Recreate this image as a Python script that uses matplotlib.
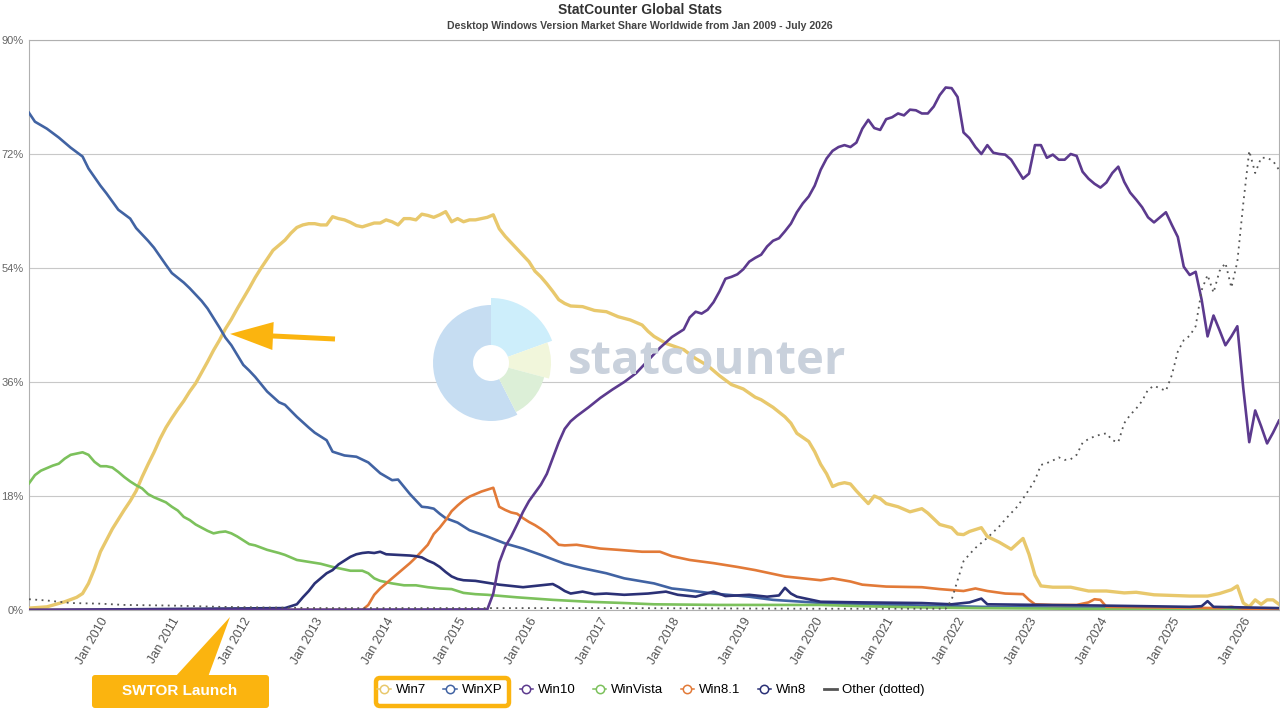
import matplotlib
matplotlib.use("Agg")
import matplotlib.pyplot as plt
import matplotlib.transforms as mtransforms
from matplotlib.lines import Line2D
from matplotlib.patches import FancyBboxPatch, Polygon, FancyArrow, Wedge

plt.rcParams['font.family'] = ['Liberation Sans', 'DejaVu Sans']

# x = months since Jan 2009 (Jul 2026 = 210)
win7_m = [0, 3, 6, 8, 9, 10, 11, 12, 13, 14, 15, 16, 17, 18, 19, 20, 21, 22, 23, 24, 25, 26, 27, 28, 29, 30,
          31, 32, 33, 34, 35, 36, 37, 38, 39, 40, 41, 42, 43, 44, 45, 46, 47, 48, 49, 50, 51, 52, 53, 54, 55,
          56, 57, 58, 59, 60, 61, 62, 63, 64, 65, 66, 67, 68, 69, 70, 71, 72, 73, 74, 75, 76, 77, 78, 79, 80,
          81, 82, 83, 84, 85, 86, 87, 88, 89, 90, 91, 93, 95, 97, 99, 101, 103, 104, 105, 107, 110, 112, 114,
          116, 118, 120, 122, 123, 125, 127, 128, 129, 131, 132, 133, 134, 135, 136, 137, 138, 139, 141, 142,
          143, 144, 146, 148, 150, 151, 153, 155, 156, 157, 158, 160, 161, 163, 165, 167, 168, 169, 170, 172,
          175, 178, 181, 184, 186, 189, 192, 195, 198, 200, 202, 203, 204, 205, 206, 207, 208, 209, 210]
win7_v = [0.3, 0.5, 1.3, 2.0, 2.6, 4.2, 6.5, 9.2, 11.0, 12.8, 14.3, 15.8, 17.2, 18.8, 21.0, 23.0, 24.9, 27.0,
          28.8, 30.3, 31.7, 33.0, 34.5, 35.8, 37.5, 39.2, 41.0, 42.6, 44.4, 45.9, 47.6, 49.2, 50.8, 52.5, 54.0,
          55.4, 56.8, 57.6, 58.4, 59.5, 60.4, 60.8, 61.0, 61.0, 60.8, 60.8, 62.1, 61.8, 61.6, 61.2, 60.7, 60.5,
          60.8, 61.1, 61.1, 61.6, 61.3, 60.8, 61.8, 61.8, 61.6, 62.5, 62.3, 62.0, 62.4, 62.9, 61.3, 61.8, 61.3,
          61.6, 61.6, 61.8, 62.0, 62.4, 60.2, 59.0, 58.0, 57.0, 56.0, 55.0, 53.5, 52.6, 51.5, 50.3, 49.0, 48.4,
          48.0, 47.9, 47.3, 47.1, 46.3, 45.8, 45.0, 44.0, 43.2, 42.1, 41.1, 39.7, 38.6, 37.0, 35.6, 34.9, 33.6,
          33.2, 32.0, 30.5, 29.5, 27.9, 26.6, 25.0, 23.0, 21.5, 19.5, 19.9, 20.1, 19.9, 18.8, 16.8, 18.0, 17.6,
          16.8, 16.3, 15.5, 16.0, 15.3, 13.5, 13.0, 12.0, 11.9, 12.4, 13.0, 11.6, 10.7, 9.6, 11.3, 8.8, 5.5,
          3.8, 3.6, 3.6, 3.0, 3.0, 2.7, 2.8, 2.4, 2.3, 2.2, 2.2, 2.6, 3.2, 3.8, 1.1, 0.5, 1.6, 0.9, 1.6, 1.6, 0.9]

winxp_m = [0, 1, 3, 5, 7, 9, 10, 12, 13, 15, 17, 18, 20, 21, 23, 24, 26, 27, 29, 30, 32, 33, 34, 36, 37, 38,
           40, 42, 43, 45, 47, 48, 50, 51, 53, 55, 57, 59, 61, 62, 64, 66, 67, 68, 69, 70, 72, 74, 77, 80, 83,
           86, 90, 93, 97, 100, 105, 108, 110, 115, 121, 125, 130, 135, 140, 150, 160, 170, 185, 210]
winxp_v = [78.5, 77.1, 76.0, 74.6, 73.0, 71.6, 69.7, 67.0, 65.8, 63.2, 61.8, 60.3, 58.3, 57.2, 54.5, 53.2,
           51.7, 50.8, 48.8, 47.6, 44.6, 43.0, 41.8, 38.7, 37.8, 36.8, 34.5, 32.8, 32.4, 30.5, 28.8, 28.0,
           26.8, 25.0, 24.4, 24.2, 23.3, 21.6, 20.5, 20.6, 18.3, 16.3, 16.2, 16.0, 15.2, 14.5, 13.8, 12.6,
           11.6, 10.5, 9.7, 8.7, 7.3, 6.6, 5.8, 5.0, 4.2, 3.4, 3.2, 2.6, 2.1, 1.6, 1.3, 1.0, 0.9, 0.7, 0.5,
           0.4, 0.3, 0.2]

win10_m = [0, 77, 78, 79, 80, 81, 82, 83, 84, 85, 86, 87, 88, 89, 90, 91, 92, 94, 96, 98, 100, 102, 104, 106,
           108, 110, 111, 112, 113, 114, 115, 116, 117, 118, 119, 120, 121, 122, 123, 124, 125, 126, 127, 128,
           129, 130, 131, 132, 133, 134, 135, 136, 137, 138, 139, 140, 141, 142, 143, 144, 145, 146, 147, 148,
           149, 150, 151, 152, 153, 154, 155, 156, 157, 158, 159, 160, 161, 162, 163, 164, 165, 166, 167, 168,
           169, 170, 171, 172, 173, 174, 175, 176, 177, 178, 179, 180, 181, 182, 183, 184, 185, 186, 187, 188,
           189, 190, 191, 192, 193, 194, 195, 196, 197, 198, 199, 200, 201, 202, 203, 204, 205, 206, 207, 208,
           209, 210]
win10_v = [0.0, 0.1, 2.6, 7.5, 10.0, 11.6, 13.5, 15.5, 17.2, 18.5, 19.8, 21.5, 24.0, 26.5, 28.6, 29.8, 30.6,
           32.0, 33.5, 34.8, 36.0, 37.4, 39.4, 41.4, 43.1, 44.3, 46.2, 47.1, 46.8, 47.4, 48.6, 50.3, 52.3, 52.6,
           53.0, 53.8, 55.0, 55.6, 56.1, 57.4, 58.3, 58.7, 59.8, 61.0, 62.8, 64.2, 65.3, 67.0, 69.5, 71.3, 72.5,
           73.1, 73.4, 73.1, 73.8, 76.0, 77.4, 76.1, 75.8, 77.5, 77.8, 78.4, 78.1, 79.0, 78.9, 78.4, 78.4, 79.5,
           81.3, 82.5, 82.4, 81.0, 75.4, 74.5, 73.1, 72.0, 73.4, 72.2, 72.0, 71.9, 71.1, 69.6, 68.1, 68.9, 73.4,
           73.4, 71.4, 71.9, 71.1, 71.1, 72.0, 71.7, 69.2, 68.1, 67.3, 66.7, 67.5, 69.0, 70.0, 67.6, 65.9, 64.8,
           63.6, 62.0, 61.2, 62.0, 62.8, 60.8, 58.9, 54.2, 52.9, 53.4, 49.0, 43.2, 46.5, 44.2, 41.8, 43.2, 44.8,
           35.0, 26.5, 31.5, 29.0, 26.3, 28.0, 29.9]

vista_m = [0, 1, 2, 3, 4, 5, 6, 7, 8, 9, 10, 11, 12, 13, 14, 15, 16, 17, 18, 19, 20, 21, 22, 23, 24, 25, 26,
           27, 28, 29, 30, 31, 32, 33, 34, 35, 36, 37, 38, 40, 42, 43, 45, 47, 49, 51, 52, 54, 56, 57, 58, 59,
           61, 63, 65, 67, 69, 71, 73, 75, 77, 82, 88, 94, 100, 105, 116, 133, 140, 150, 160, 175, 210]
vista_v = [20.0, 21.3, 22.0, 22.4, 22.8, 23.1, 23.9, 24.5, 24.7, 24.9, 24.5, 23.4, 22.7, 22.7, 22.5, 21.8,
           21.0, 20.3, 19.7, 19.2, 18.3, 17.8, 17.4, 17.0, 16.3, 15.7, 14.7, 14.2, 13.5, 13.0, 12.5, 12.1, 12.3,
           12.4, 12.1, 11.6, 11.0, 10.4, 10.2, 9.5, 9.0, 8.7, 7.9, 7.6, 7.3, 6.8, 6.6, 6.2, 6.2, 5.8, 5.0, 4.6,
           4.2, 3.9, 3.9, 3.6, 3.4, 3.3, 2.7, 2.5, 2.4, 2.0, 1.6, 1.3, 1.1, 0.9, 0.8, 0.8, 0.6, 0.4, 0.3, 0.2, 0.1]

win81_m = [0, 56, 57, 58, 59, 60, 61, 62, 63, 64, 65, 66, 67, 68, 69, 70, 71, 72, 73, 74, 75, 76, 77, 78, 79,
           80, 81, 82, 83, 84, 85, 86, 87, 88, 89, 90, 92, 94, 96, 99, 103, 106, 108, 111, 115, 119, 122, 127,
           133, 135, 138, 140, 144, 150, 153, 157, 159, 161, 164, 167, 168, 169, 172, 176, 178, 179, 180, 181,
           190, 200, 202, 204, 210]
win81_v = [0.0, 0.0, 0.8, 2.4, 3.4, 4.2, 5.0, 5.8, 6.6, 7.4, 8.3, 9.3, 10.3, 12.0, 13.0, 14.2, 15.6, 16.5,
           17.3, 17.9, 18.3, 18.7, 19.0, 19.3, 16.3, 15.8, 15.4, 15.2, 14.5, 13.9, 13.4, 12.8, 12.1, 11.2, 10.3,
           10.2, 10.3, 10.0, 9.7, 9.5, 9.2, 9.2, 8.5, 7.9, 7.4, 6.8, 6.3, 5.3, 4.7, 5.0, 4.5, 4.0, 3.7, 3.6, 3.3,
           3.0, 3.4, 3.0, 2.6, 2.5, 1.6, 0.9, 0.8, 0.8, 1.2, 1.7, 1.6, 0.5, 0.4, 0.3, 0.5, 0.2, 0.2]

win8_m = [0, 43, 44, 45, 46, 47, 48, 49, 50, 51, 52, 53, 54, 55, 56, 57, 58, 59, 60, 62, 64, 65, 66, 67, 68,
          69, 70, 71, 72, 73, 75, 77, 79, 81, 83, 85, 86, 88, 89, 90, 91, 93, 95, 97, 100, 104, 107, 109, 112,
          115, 117, 121, 124, 126, 127, 128, 129, 133, 140, 150, 155, 158, 159, 160, 161, 170, 180, 195, 197,
          198, 199, 210]
win8_v = [0.0, 0.3, 0.6, 0.9, 2.0, 3.0, 4.2, 5.0, 5.8, 6.3, 7.2, 7.8, 8.4, 8.8, 9.0, 9.1, 9.0, 9.2, 8.8, 8.7,
          8.6, 8.5, 8.3, 7.8, 7.4, 6.8, 6.0, 5.3, 4.9, 4.7, 4.6, 4.3, 4.0, 3.8, 3.6, 3.8, 3.9, 4.1, 3.6, 3.0,
          2.6, 2.9, 2.5, 2.6, 2.4, 2.6, 2.9, 2.4, 2.1, 2.9, 2.2, 2.4, 2.1, 2.3, 3.5, 2.6, 2.1, 1.3, 1.2, 1.1,
          0.9, 1.2, 1.5, 1.8, 0.9, 0.8, 0.7, 0.5, 0.6, 1.4, 0.5, 0.3]

other_m = [0, 3, 7, 12, 16, 24, 32, 40, 49, 100, 130, 154, 155, 156, 157, 158, 159, 160, 161, 162, 163, 164,
           165, 166, 167, 168, 169, 170, 171, 172, 173, 174, 175, 176, 177, 178, 179, 180, 181, 182, 183, 184,
           185, 186, 187, 188, 189, 190, 191, 192, 193, 194, 195, 196, 197, 198, 199, 200, 201, 202, 203, 204,
           205, 206, 207, 208, 209, 210]
other_v = [1.7, 1.5, 1.1, 1.0, 0.8, 0.7, 0.5, 0.4, 0.3, 0.3, 0.2, 0.2, 1.6, 4.7, 7.7, 8.8, 9.8, 10.6, 11.4,
           12.3, 13.2, 14.3, 15.3, 16.3, 17.6, 19.0, 20.5, 22.9, 23.2, 23.6, 24.1, 23.7, 23.8, 24.5, 26.4, 27.0,
           27.4, 27.7, 27.9, 26.8, 26.5, 29.5, 30.8, 31.8, 33.0, 34.8, 35.4, 35.0, 34.6, 37.1, 40.8, 42.6, 43.3,
           44.8, 50.5, 52.9, 50.1, 53.5, 54.8, 50.9, 55.0, 64.2, 72.5, 69.0, 71.4, 71.4, 70.9, 69.5]

years = list(range(2010, 2027))
y_ticks = [0, 18, 36, 54, 72, 90]
names = ["Win7", "WinXP", "Win10", "WinVista", "Win8.1", "Win8", "Other (dotted)"]
cols = ["#e8c86c", "#4163a3", "#5c3a8e", "#7cc15c", "#e27a38", "#2b3176", "#555555"]

fig = plt.figure(figsize=(12.8, 7.2), dpi=100)
ax = fig.add_axes([29 / 1280, 110 / 720, 1250 / 1280, 570 / 720])
# pixel coordinates (origin bottom left) for the decorations
trans_px = mtransforms.Affine2D().scale(1 / 100) + fig.dpi_scale_trans

# statcounter watermark, behind the lines
for r, t1, t2, col in [(58, 90, 297, "#c6ddf2"), (65, 20, 90, "#cdeefb"),
                       (60, -15, 20, "#f1f6db"), (55, -63, -15, "#dcefd7")]:
    fig.patches.append(Wedge((491, 357), r, t1, t2, width=r - 18, facecolor=col,
                             edgecolor="none", transform=trans_px, zorder=0))
fig.text(707 / 1280, 1 - 361 / 720, "statcounter", fontsize=34, fontweight="bold",
         family=["Open Sans", "DejaVu Sans"], color="#c9d1dc", ha="center", va="center", zorder=0)

ax.patch.set_alpha(0)
ax.plot(win7_m, win7_v, color=cols[0], lw=2.4, zorder=3)
ax.plot(winxp_m, winxp_v, color=cols[1], lw=1.9, zorder=3)
ax.plot(win10_m, win10_v, color=cols[2], lw=1.9, zorder=4)
ax.plot(vista_m, vista_v, color=cols[3], lw=1.9, zorder=3)
ax.plot(win81_m, win81_v, color=cols[4], lw=1.9, zorder=3)
ax.plot(win8_m, win8_v, color=cols[5], lw=1.9, zorder=3)
ax.plot(other_m, other_v, color=cols[6], lw=1.3, ls=(0, (1, 2.5)), zorder=5)

ax.set_xlim(0, 210)
ax.set_ylim(0, 90)
ax.set_yticks(y_ticks)
ax.set_yticklabels([f"{t}%" for t in y_ticks], fontsize=8, color="#666666")
ax.set_xticks([12 * (y - 2009) for y in years])
ax.set_xticklabels([f"Jan {y}" for y in years], rotation=60, ha="right", rotation_mode="anchor",
                   fontsize=9, color="#555555")
ax.tick_params(axis="both", length=0, pad=4)
ax.grid(axis="y", color="#c8c8c8", lw=0.8)
for s in ax.spines.values():
    s.set_color("#b0b0b0")
    s.set_linewidth(0.8)

fig.text(0.5, 1 - 10 / 720, "StatCounter Global Stats", ha="center", va="center",
         fontsize=10, fontweight="bold", color="#333333")
fig.text(0.5, 1 - 26 / 720, "Desktop Windows Version Market Share Worldwide from Jan 2009 - July 2026",
         ha="center", va="center", fontsize=7.6, fontweight="bold", color="#444444")

# legend
handles = [Line2D([], [], color=c, lw=1.1, marker="o", markersize=6, markerfacecolor="white",
                  markeredgewidth=1.1) for c in cols[:-1]]
handles.append(Line2D([], [], color=cols[6], lw=2))
fig.legend(handles, names, loc="center", bbox_to_anchor=(651 / 1280, 1 - 690 / 720), ncol=7,
           frameon=False, fontsize=9.5, handlelength=1.0, handletextpad=0.4, columnspacing=1.3)

orange = "#fbb40f"
# box around Win7 / WinXP legend entries
fig.patches.append(FancyBboxPatch((376, 720 - 706), 133, 28, boxstyle="round,pad=0,rounding_size=4",
                                  facecolor="none", edgecolor=orange, lw=3.2, transform=trans_px))
# SWTOR callout
fig.patches.append(FancyBboxPatch((92, 720 - 708), 177, 33, boxstyle="round,pad=0,rounding_size=3",
                                  facecolor=orange, edgecolor="none", transform=trans_px))
fig.patches.append(Polygon([(175, 720 - 677), (208, 720 - 677), (230, 720 - 617)], closed=True,
                           facecolor=orange, edgecolor="none", transform=trans_px))
fig.text(180 / 1280, 1 - 691 / 720, "SWTOR Launch", ha="center", va="center", fontsize=11,
         fontweight="bold", color="white")
# arrow pointing at the Win7 / XP crossing
fig.patches.append(FancyArrow(335, 720 - 339, -62, 3, width=5, head_width=28, head_length=43,
                              length_includes_head=False, facecolor=orange, edgecolor="none",
                              transform=trans_px, zorder=6))

fig.savefig("out.png", dpi=100)
